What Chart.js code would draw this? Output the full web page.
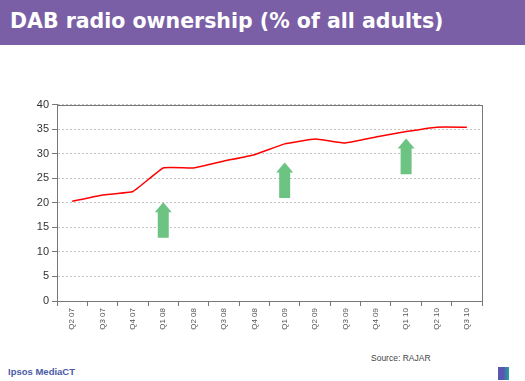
<!DOCTYPE html>
<html>
<head>
<meta charset="utf-8">
<script src="https://cdn.jsdelivr.net/npm/chart.js@4"></script>
<style>
    html, body { margin: 0; padding: 0; background: #fff; }
    body { width: 525px; height: 381px; position: relative; overflow: hidden; font-family: "Liberation Sans", Arial, sans-serif; }
    #titleBar { position: absolute; left: 0; top: 0; width: 525px; height: 45px; background: #7b5fa6; }
    #titleBar h1 { margin: 0; position: absolute; left: 10px; top: 9px; font-family: "DejaVu Sans", Verdana, sans-serif; font-size: 20.5px; line-height: 24px; font-weight: bold; color: #fff; white-space: nowrap; }
    #chartBox { position: absolute; left: 0; top: 95px; width: 525px; height: 250px; }
    #source { position: absolute; left: 371px; top: 353px; font-size: 8.5px; color: #444; }
    #brand { position: absolute; left: 8px; top: 366px; font-size: 9.5px; font-weight: bold; color: #4b5aa6; }
    #logo { position: absolute; left: 498px; top: 367px; width: 11px; height: 13px; background: linear-gradient(90deg, #5a56b0 0%, #5a56b0 50%, #1fa6a0 100%); }
</style>
</head>
<body>
<div id="titleBar"><h1>DAB radio ownership (% of all adults)</h1></div>
<div id="chartBox"><canvas id="dabChart"></canvas></div>
<div id="source">Source: RAJAR</div>
<div id="brand">Ipsos MediaCT</div>
<div id="logo"></div>
<script>
// quarters and ownership share (% of all adults)
var quarters = ['Q2 07', 'Q3 07', 'Q4 07', 'Q1 08', 'Q2 08', 'Q3 08', 'Q4 08',
                'Q1 09', 'Q2 09', 'Q3 09', 'Q4 09', 'Q1 10', 'Q2 10', 'Q3 10'];
var ownership = [20.3, 21.6, 22.3, 27.1, 27.1, 28.5, 29.8,
                 32.0, 33.0, 32.2, 33.4, 34.5, 35.4, 35.4];

// green arrows: category index, start value, tip value
var arrowAt = [3, 7, 11];
var arrowFrom = [12.9, 21.0, 25.8];
var arrowTo = [20.1, 28.2, 33.1];

var yTicks = [0, 5, 10, 15, 20, 25, 30, 35, 40];

(function() {
    'use strict';

    var arrowPlugin = {
        id: 'arrows',
        afterDatasetsDraw: function(chart) {
            var ctx = chart.ctx;
            var xs = chart.scales.x;
            var ys = chart.scales.y;
            ctx.save();
            ctx.fillStyle = '#6dc382';
            for (var i = 0; i < arrowAt.length; i++) {
                var cx = xs.getPixelForValue(arrowAt[i]);
                var yb = ys.getPixelForValue(arrowFrom[i]);
                var yt = ys.getPixelForValue(arrowTo[i]);
                ctx.beginPath();
                ctx.moveTo(cx - 5.5, yb);
                ctx.lineTo(cx - 5.5, yt + 10);
                ctx.lineTo(cx - 8.5, yt + 10);
                ctx.lineTo(cx, yt);
                ctx.lineTo(cx + 8.5, yt + 10);
                ctx.lineTo(cx + 5.5, yt + 10);
                ctx.lineTo(cx + 5.5, yb);
                ctx.closePath();
                ctx.fill();
            }
            ctx.restore();
        }
    };

    var borderPlugin = {
        id: 'plotBorder',
        afterDraw: function(chart) {
            var a = chart.chartArea;
            var ctx = chart.ctx;
            ctx.save();
            ctx.strokeStyle = '#777';
            ctx.lineWidth = 1;
            ctx.strokeRect(Math.round(a.left) + 0.5, Math.round(a.top) + 0.5,
                           Math.round(a.right - a.left), Math.round(a.bottom - a.top));
            ctx.restore();
        }
    };

    function initChart() {
        var canvas = document.getElementById('dabChart');
        if (!canvas) {
            console.error('Canvas element #dabChart not found');
            return;
        }
        var ctx = canvas.getContext('2d');

        new Chart(ctx, {
            type: 'line',
            data: {
                labels: quarters,
                datasets: [{
                    data: ownership,
                    borderColor: '#ff0000',
                    borderWidth: 1.5,
                    pointRadius: 0,
                    tension: 0.1,
                    fill: false
                }]
            },
            options: {
                responsive: true,
                maintainAspectRatio: false,
                animation: false,
                layout: { padding: { top: 7, right: 43, left: 0, bottom: 0 } },
                plugins: {
                    legend: { display: false },
                    tooltip: { enabled: false }
                },
                scales: {
                    x: {
                        offset: true,
                        afterFit: function(scale) { scale.height = 44; },
                        grid: {
                            offset: true,
                            drawOnChartArea: false,
                            drawTicks: true,
                            tickLength: 5,
                            color: '#777'
                        },
                        border: { color: '#777' },
                        ticks: {
                            minRotation: 90,
                            maxRotation: 90,
                            autoSkip: false,
                            padding: 2,
                            color: '#555',
                            font: { family: '"Liberation Sans", Arial, sans-serif', size: 8 }
                        }
                    },
                    y: {
                        min: 0,
                        max: 40,
                        afterFit: function(scale) { scale.width = 57; },
                        afterBuildTicks: function(scale) {
                            scale.ticks = yTicks.map(function(v) { return { value: v }; });
                        },
                        grid: {
                            color: '#c4c4c4',
                            tickLength: 5,
                            tickColor: '#777'
                        },
                        border: { color: '#777', dash: [2, 2] },
                        ticks: {
                            padding: 3,
                            color: '#333',
                            font: { family: '"Liberation Sans", Arial, sans-serif', size: 11 }
                        }
                    }
                }
            },
            plugins: [arrowPlugin, borderPlugin]
        });
    }

    if (document.readyState === 'loading') {
        document.addEventListener('DOMContentLoaded', initChart);
    } else {
        initChart();
    }
})();
</script>
</body>
</html>
